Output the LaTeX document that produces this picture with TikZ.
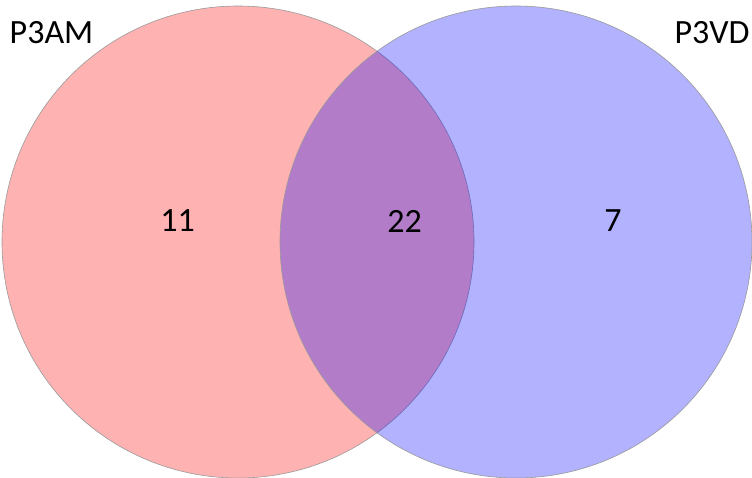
\documentclass[tikz,border=0pt]{standalone}
\usepackage{fontspec}
\setmainfont{Carlito}
\begin{document}
\begin{tikzpicture}[x=1pt,y=-1pt,
  setcircle/.style={draw=gray!80, line width=0.6pt, fill opacity=0.3},
  lbl/.style={font=\fontsize{34}{38}\selectfont, text=black, inner sep=0pt}]
\useasboundingbox (0,0) rectangle (752,477);
\fill[white] (0,0) rectangle (752,477);
\path[setcircle, fill=red] (238,242) circle[radius=236];
\path[setcircle, fill=blue] (516,242) circle[radius=236];
\node[lbl] (a) at (51.5,32.5) {P3AM};
\node[lbl] (b) at (712,32.5) {P3VD};
\node[lbl] (n1) at (177.5,221) {11};
\node[lbl] (n2) at (404.5,221) {22};
\node[lbl] (n3) at (613,221) {7};
\end{tikzpicture}
\end{document}
